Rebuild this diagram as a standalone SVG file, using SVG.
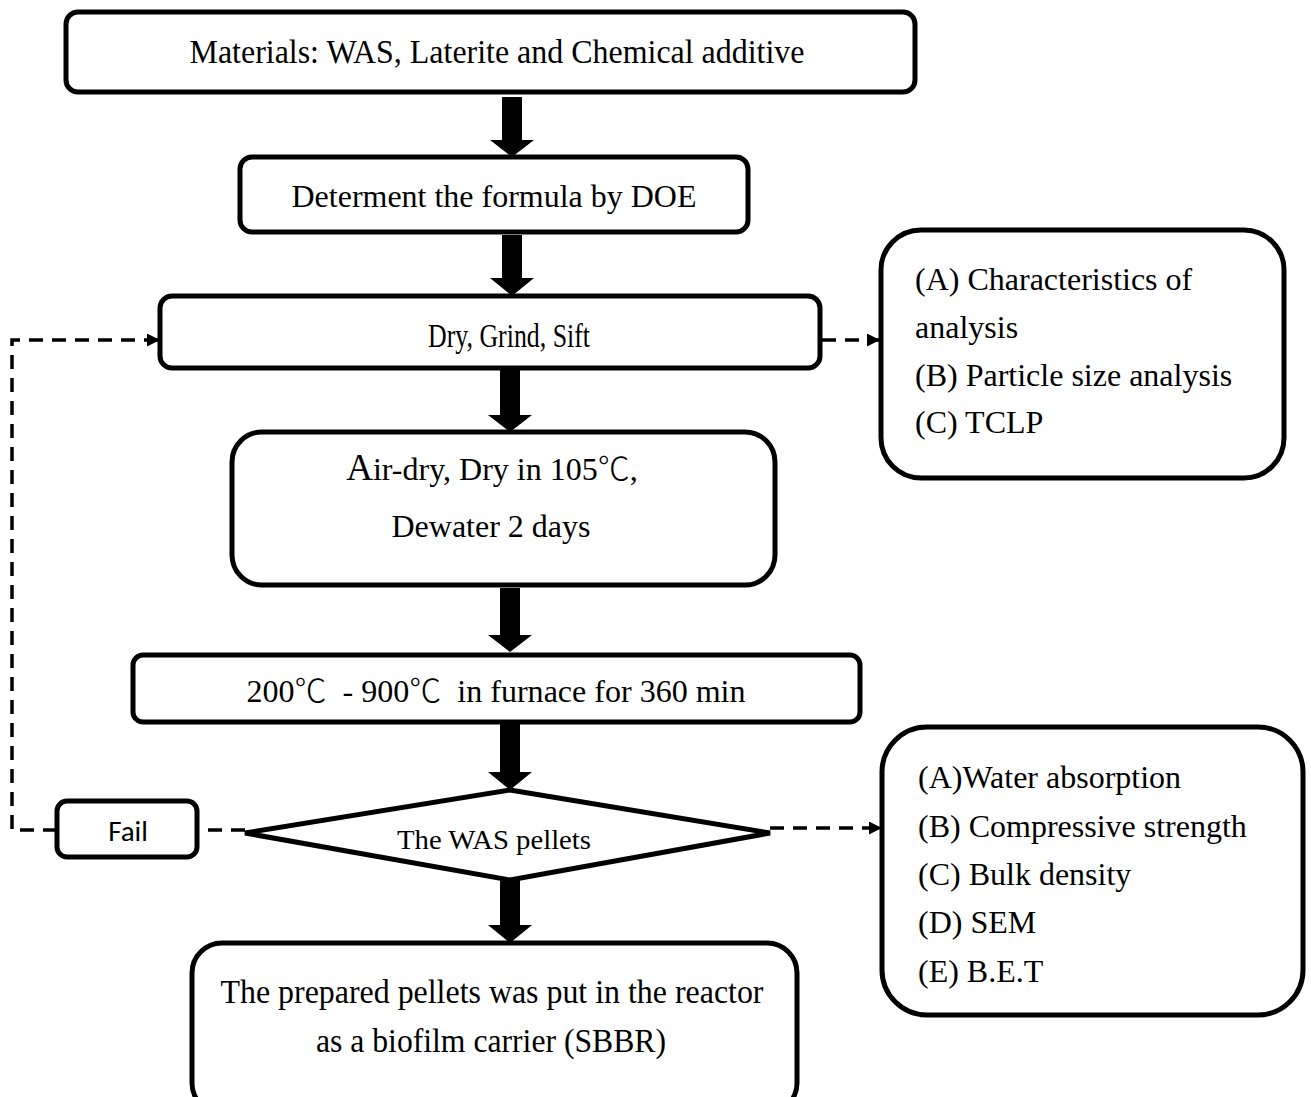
<svg xmlns="http://www.w3.org/2000/svg" width="1311" height="1097" viewBox="0 0 1311 1097">
<style>
.box{fill:#fff;stroke:#000;stroke-width:5}
.t{font-family:"Liberation Serif",serif;fill:#000}
.c{text-anchor:middle}
.deg{font-family:"Noto Sans CJK SC","Noto Sans CJK JP",sans-serif;font-weight:300}
.dash{fill:none;stroke:#000;stroke-width:3.5;stroke-dasharray:14 9}
.big{fill:#000}
</style>
<defs>
<marker id="ah" viewBox="0 0 10 10" refX="10" refY="5" markerWidth="13" markerHeight="13" markerUnits="userSpaceOnUse" orient="auto">
<path d="M0,0 L10,5 L0,10 z" fill="#000"/>
</marker>
</defs>
<rect width="1311" height="1097" fill="#fff"/>
<g id="connectors">
<path class="big" d="M502,97 H522 V140 H534 L512,157 L490,140 H502 Z"/>
<path class="big" d="M502,235 H522 V278 H534 L512,296 L490,278 H502 Z"/>
<path class="big" d="M500,370 H520 V415 H532 L510,432 L488,415 H500 Z"/>
<path class="big" d="M500,588 H520 V635 H532 L510,652 L488,635 H500 Z"/>
<path class="big" d="M500,724 H520 V772 H532 L510,790 L488,772 H500 Z"/>
<path class="big" d="M500,880 H520 V925 H532 L510,943 L488,925 H500 Z"/>
<path class="dash" d="M57,830 H12 V340 H160" marker-end="url(#ah)"/>
<path class="dash" d="M245,830 H197"/>
<path class="dash" d="M822,340 H880" marker-end="url(#ah)"/>
<path class="dash" d="M770,828 H882" marker-end="url(#ah)"/>
</g>
<g id="n1">
<rect class="box" x="66" y="12" width="849" height="80" rx="12"/>
<text class="t c" x="497" y="63" font-size="33" textLength="615" lengthAdjust="spacingAndGlyphs">Materials: WAS, Laterite and Chemical additive</text>
</g>
<g id="n2">
<rect class="box" x="240" y="157" width="508" height="75" rx="12"/>
<text class="t c" x="494" y="207" font-size="32" textLength="405" lengthAdjust="spacingAndGlyphs">Determent the formula by DOE</text>
</g>
<g id="n3">
<rect class="box" x="160" y="296" width="660" height="72" rx="12"/>
<text class="t c" x="509" y="347" font-size="33" textLength="162" lengthAdjust="spacingAndGlyphs">Dry, Grind, Sift</text>
</g>
<g id="n4">
<rect class="box" x="232" y="432" width="543" height="153" rx="30"/>
<text class="t c" x="492" y="480" font-size="32"><tspan font-size="37">A</tspan>ir-dry, Dry in 105<tspan class="deg">℃</tspan>,</text>
<text class="t c" x="491" y="537" font-size="32">Dewater 2 days</text>
</g>
<g id="n5">
<rect class="box" x="133" y="655" width="727" height="67" rx="10"/>
<text class="t c" x="496" y="702" font-size="32" textLength="499" lengthAdjust="spacingAndGlyphs" xml:space="preserve">200<tspan class="deg">℃</tspan>  - 900<tspan class="deg">℃</tspan>  in furnace for 360 min</text>
</g>
<g id="n6">
<path class="box" d="M510,790 L770,833 L510,880 L245,833 Z"/>
<text class="t c" x="494" y="849" font-size="27" textLength="194" lengthAdjust="spacingAndGlyphs">The WAS pellets</text>
</g>
<g id="n7">
<rect class="box" x="57" y="801" width="140" height="56" rx="10"/>
<text x="128" y="841" font-size="29" text-anchor="middle" font-family="Carlito,'Open Sans','Liberation Sans',sans-serif">Fail</text>
</g>
<g id="n8">
<rect class="box" x="192" y="943" width="605" height="170" rx="30"/>
<text class="t c" x="492" y="1003" font-size="34" textLength="543" lengthAdjust="spacingAndGlyphs">The prepared pellets was put in the reactor</text>
<text class="t c" x="491" y="1052" font-size="34" textLength="350" lengthAdjust="spacingAndGlyphs">as a biofilm carrier (SBBR)</text>
</g>
<g id="n9">
<rect class="box" x="881" y="230" width="403" height="248" rx="40"/>
<text class="t" x="915" y="290" font-size="32">(A) Characteristics of</text>
<text class="t" x="915" y="338" font-size="32">analysis</text>
<text class="t" x="915" y="386" font-size="32">(B) Particle size analysis</text>
<text class="t" x="915" y="433" font-size="32">(C) TCLP</text>
</g>
<g id="n10">
<rect class="box" x="882" y="727" width="421" height="288" rx="45"/>
<text class="t" x="918" y="788" font-size="32">(A)Water absorption</text>
<text class="t" x="918" y="837" font-size="32">(B) Compressive strength</text>
<text class="t" x="918" y="885" font-size="32">(C) Bulk density</text>
<text class="t" x="918" y="933" font-size="32">(D) SEM</text>
<text class="t" x="918" y="982" font-size="32">(E) B.E.T</text>
</g>
</svg>
